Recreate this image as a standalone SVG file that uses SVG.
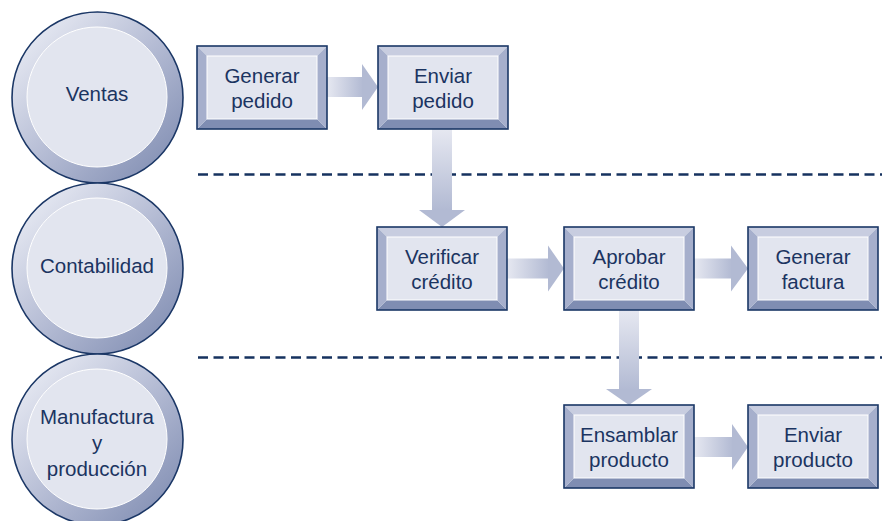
<svg xmlns="http://www.w3.org/2000/svg" xmlns:xlink="http://www.w3.org/1999/xlink" width="882" height="521" viewBox="0 0 882 521">
<style>
.txt{font-family:"Liberation Sans",Arial,sans-serif;font-size:20.5px;fill:#1b3461;text-anchor:middle}
.ring{fill:url(#ringGrad);stroke:#1b3766;stroke-width:1.6}
.core{fill:#e2e5ef;stroke:#ffffff;stroke-width:1}
.sep{stroke:#16325f;stroke-width:2.6;stroke-dasharray:10 5.5;fill:none}
.head{fill:#b2bad3}
.hshaft{fill:url(#hGrad)}
.vshaft{fill:url(#vGrad)}
</style>
<defs>
<linearGradient id="ringGrad" x1="0.15" y1="0.1" x2="0.9" y2="0.85">
<stop offset="0" stop-color="#e4e7f1"/>
<stop offset="0.5" stop-color="#b6bdd5"/>
<stop offset="1" stop-color="#8894b7"/>
</linearGradient>
<linearGradient id="hGrad" x1="0" y1="0" x2="1" y2="0">
<stop offset="0" stop-color="#e6e8f1"/>
<stop offset="1" stop-color="#b2bad3"/>
</linearGradient>
<linearGradient id="vGrad" x1="0" y1="0" x2="0" y2="1">
<stop offset="0" stop-color="#e6e8f1"/>
<stop offset="1" stop-color="#b2bad3"/>
</linearGradient>
<g id="boxShape">
<polygon points="0,0 130,0 120,10 10,10" fill="#c8cde0"/>
<polygon points="0,83 130,83 120,73 10,73" fill="#7f8db2"/>
<polygon points="0,0 10,10 10,73 0,83" fill="#a6afcc"/>
<polygon points="130,0 120,10 120,73 130,83" fill="#a6afcc"/>
<rect x="10" y="10" width="110" height="63" fill="#e2e5ef" stroke="#ffffff" stroke-width="1"/>
<rect x="0" y="0" width="130" height="83" fill="none" stroke="#1b3766" stroke-width="1.6"/>
</g>
</defs>

<g id="separators">
<line class="sep" x1="198" y1="174.5" x2="882" y2="174.5"/>
<line class="sep" x1="198" y1="357.5" x2="882" y2="357.5"/>
</g>

<g id="lane-ventas">
<circle class="ring" cx="97.5" cy="97.5" r="85.5"/>
<circle class="core" cx="97" cy="97" r="70"/>
<text class="txt" x="97" y="101">Ventas</text>
</g>
<g id="lane-contabilidad">
<circle class="ring" cx="97.5" cy="268.5" r="85.5"/>
<circle class="core" cx="97" cy="268" r="70"/>
<text class="txt" x="97" y="273">Contabilidad</text>
</g>
<g id="lane-manufactura">
<circle class="ring" cx="97.5" cy="439.5" r="85.5"/>
<circle class="core" cx="97" cy="439" r="70"/>
<text class="txt" x="97" y="424">Manufactura</text>
<text class="txt" x="97" y="450">y</text>
<text class="txt" x="97" y="476">producción</text>
</g>

<g id="connectors">
<rect class="hshaft" x="327" y="77" width="36" height="20"/>
<polygon class="head" points="362,64 378,87 362,110"/>
<rect class="vshaft" x="432" y="129" width="20" height="81"/>
<polygon class="head" points="419,210 465,210 442,227"/>
<rect class="hshaft" x="507" y="258.5" width="42" height="20"/>
<polygon class="head" points="548,245.5 564,268.5 548,291.5"/>
<rect class="hshaft" x="694" y="258.5" width="38" height="20"/>
<polygon class="head" points="731,245.5 748,268.5 731,291.5"/>
<rect class="vshaft" x="619" y="310" width="20" height="80"/>
<polygon class="head" points="606,389 652,389 629,405"/>
<rect class="hshaft" x="694" y="437" width="39" height="20"/>
<polygon class="head" points="732,424 748,447 732,470"/>
</g>

<g id="generar-pedido" transform="translate(197,46)">
<use xlink:href="#boxShape"/>
<text class="txt" x="65" y="37">Generar</text>
<text class="txt" x="65" y="62">pedido</text>
</g>
<g id="enviar-pedido" transform="translate(378,46)">
<use xlink:href="#boxShape"/>
<text class="txt" x="65" y="37">Enviar</text>
<text class="txt" x="65" y="62">pedido</text>
</g>
<g id="verificar-credito" transform="translate(377,227)">
<use xlink:href="#boxShape"/>
<text class="txt" x="65" y="37">Verificar</text>
<text class="txt" x="65" y="62">crédito</text>
</g>
<g id="aprobar-credito" transform="translate(564,227)">
<use xlink:href="#boxShape"/>
<text class="txt" x="65" y="37">Aprobar</text>
<text class="txt" x="65" y="62">crédito</text>
</g>
<g id="generar-factura" transform="translate(748,227)">
<use xlink:href="#boxShape"/>
<text class="txt" x="65" y="37">Generar</text>
<text class="txt" x="65" y="62">factura</text>
</g>
<g id="ensamblar-producto" transform="translate(564,405)">
<use xlink:href="#boxShape"/>
<text class="txt" x="65" y="37">Ensamblar</text>
<text class="txt" x="65" y="62">producto</text>
</g>
<g id="enviar-producto" transform="translate(748,405)">
<use xlink:href="#boxShape"/>
<text class="txt" x="65" y="37">Enviar</text>
<text class="txt" x="65" y="62">producto</text>
</g>
</svg>
